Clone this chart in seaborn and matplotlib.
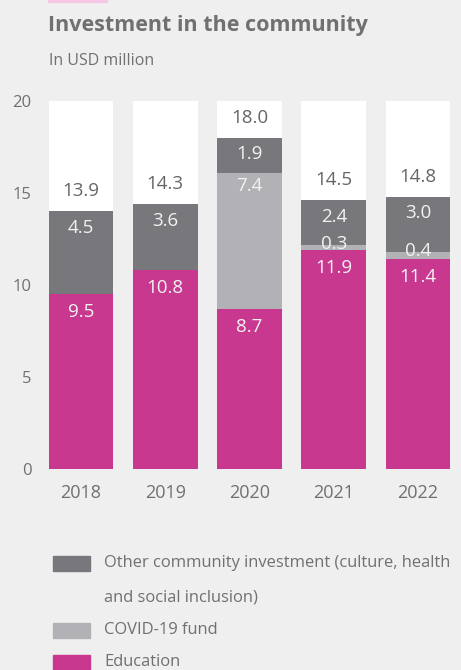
import matplotlib
matplotlib.use("Agg")
import matplotlib.pyplot as plt
from matplotlib.patches import Rectangle
import pandas as pd
import seaborn as sns

# Community investment, USD million
years = ["2018", "2019", "2020", "2021", "2022"]
education = [9.5, 10.8, 8.7, 11.9, 11.4]
covid_fund = [0.0, 0.0, 7.4, 0.3, 0.4]
other = [4.5, 3.6, 1.9, 2.4, 3.0]
totals = [13.9, 14.3, 18.0, 14.5, 14.8]
y_ticks = [0, 5, 10, 15, 20]
legend_labels = [
    "Other community investment (culture, health\nand social inclusion)",
    "COVID-19 fund",
    "Education",
]

BG = "#efefef"
C_EDU = "#c8388f"
C_COVID = "#b2b2b6"
C_OTHER = "#78787c"
TXT = "#707070"
LABEL_LIGHT = "#f2f2f2"

sns.set_theme(style="white")
plt.rcParams["font.family"] = ["Open Sans", "DejaVu Sans"]

df = pd.DataFrame({"year": years, "education": education,
                   "covid": covid_fund, "other": other})
df["edu_top"] = df["education"]
df["covid_top"] = df["education"] + df["covid"]
df["other_top"] = df["covid_top"] + df["other"]
df["frame"] = y_ticks[-1]

W, H = 461, 670
fig = plt.figure(figsize=(W / 100, H / 100), dpi=100, facecolor=BG)

# plot area in pixel terms
ax_l, ax_r, ax_b, ax_t = 40, 461, 469, 101
ax = fig.add_axes([ax_l / W, 1 - ax_b / H, (ax_r - ax_l) / W, (ax_b - ax_t) / H])
ax.set_facecolor(BG)

bar_w = 0.77
layers = [("frame", "white"), ("other_top", C_OTHER),
          ("covid_top", C_COVID), ("edu_top", C_EDU)]
for col, color in layers:
    sns.barplot(data=df, x="year", y=col, color=color, saturation=1,
                width=bar_w, errorbar=None, linewidth=0, ax=ax)

ax.set_xlim(-0.487, 4.51)
ax.set_ylim(0, 20)
ax.set_yticks(y_ticks)
ax.set_yticklabels([str(t) for t in y_ticks])
ax.set_xlabel("")
ax.set_ylabel("")
for s in ax.spines.values():
    s.set_visible(False)
ax.tick_params(axis="y", length=0, pad=6, labelsize=12, labelcolor=TXT)
ax.tick_params(axis="x", length=0, pad=10.5, labelsize=13, labelcolor=TXT)

# value labels
fs = 13.5
for i in range(len(years)):
    ax.annotate(f"{education[i]:.1f}", xy=(i, df["edu_top"][i]), xytext=(0, -13),
                textcoords="offset points", ha="center", va="center",
                fontsize=fs, color=LABEL_LIGHT)
    if covid_fund[i] > 0:
        off = -9.5 if covid_fund[i] >= 1 else 0.5
        ax.annotate(f"{covid_fund[i]:.1f}", xy=(i, df["covid_top"][i]), xytext=(0, off),
                    textcoords="offset points", ha="center", va="center",
                    fontsize=fs, color=LABEL_LIGHT)
    ax.annotate(f"{other[i]:.1f}", xy=(i, df["other_top"][i]), xytext=(0, -12),
                textcoords="offset points", ha="center", va="center",
                fontsize=fs, color=LABEL_LIGHT)
    ax.annotate(f"{totals[i]:.1f}", xy=(i, df["other_top"][i]), xytext=(0, 14.5),
                textcoords="offset points", ha="center", va="center",
                fontsize=fs, color="#666666")

# header
fig.patches.append(Rectangle((48 / W, 1 - 2 / H), 59 / W, 2 / H,
                             transform=fig.transFigure, color="#f7c8e6", zorder=5))
fig.text(48 / W, 1 - 26 / H, "Investment in the community", fontsize=15.5,
         fontweight="bold", color=TXT, ha="left", va="center")
fig.text(49 / W, 1 - 61 / H, "In USD million", fontsize=11.5, color=TXT,
         ha="left", va="center")

# legend
legend_colors = [C_OTHER, C_COVID, C_EDU]
legend_rows = [563, 630, 662]
line_step = 34
for lab, col, yc in zip(legend_labels, legend_colors, legend_rows):
    fig.patches.append(Rectangle((53 / W, 1 - (yc + 7.5) / H), 37 / W, 15 / H,
                                 transform=fig.transFigure, color=col))
    for k, line in enumerate(lab.split("\n")):
        fig.text(104 / W, 1 - (yc + k * line_step) / H, line, fontsize=11.9,
                 color=TXT, ha="left", va="center")

fig.savefig("out.png", dpi=100, facecolor=BG)
